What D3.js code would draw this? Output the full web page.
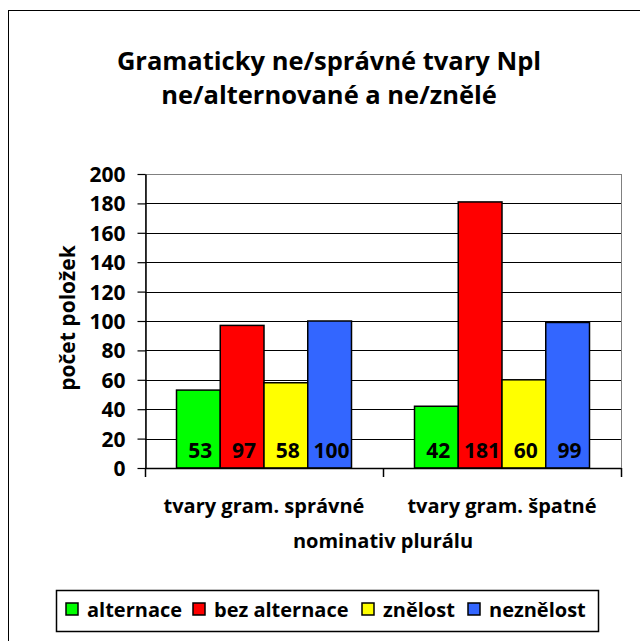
<!DOCTYPE html>
<html>
<head>
<meta charset="utf-8">
<script src="https://cdn.jsdelivr.net/npm/d3@7"></script>
<style>
  body { margin: 0; background: #fff; }
  text { font-family: "Open Sans", Lato, sans-serif; font-weight: bold; fill: #000; }
</style>
</head>
<body>
<svg class="svg"></svg>
<script>
let categories = ["tvary gram. správné", "tvary gram. špatné"]
let series = ["alternace", "bez alternace", "znělost", "neznělost"]
let alternace = [53, 42]
let bezAlternace = [97, 181]
let znelost = [58, 60]
let neznelost = [100, 99]
let yTicks = [0, 20, 40, 60, 80, 100, 120, 140, 160, 180, 200]
let titleLines = ["Gramaticky ne/správné tvary Npl", "ne/alternované a ne/znělé"]
let yTitle = "počet položek"
let xTitle = "nominativ plurálu"

let colorArr = ["#00ff00", "#ff0000", "#ffff00", "#3366ff"]
let valuesBySeries = [alternace, bezAlternace, znelost, neznelost]

let drawChart = () => {
    let svg = d3.select(".svg").attr("width", 640).attr("height", 641)
    let left = 145, right = 621, top = 174, bottom = 468

    // outer chart frame (runs off the right/bottom of the picture)
    svg.append("rect")
    .attr("x", 8.5).attr("y", 10.5)
    .attr("width", 660).attr("height", 660)
    .attr("fill", "none")
    .attr("stroke", "#000")
    .attr("stroke-width", 1)

    // title
    svg.append("text")
    .attr("text-anchor", "middle")
    .style("font-size", "25.5px")
    .selectAll("tspan")
    .data(titleLines)
    .enter()
    .append("tspan")
    .attr("x", 329)
    .attr("y", (d, i) => 70 + i * 34)
    .text((d) => d)

    let y = d3.scaleLinear().domain([0, 200]).range([bottom, top])
    let x0 = d3.scaleBand().domain(categories).range([left, right]).padding(0)
    let x1 = d3.scaleBand().domain(series).range([0, x0.bandwidth()]).paddingInner(0).paddingOuter(0.72)

    // plot area border (grey)
    svg.append("rect")
    .attr("x", left + 0.5).attr("y", top + 0.5)
    .attr("width", right - left).attr("height", bottom - top)
    .attr("fill", "none")
    .attr("stroke", "#808080")
    .attr("stroke-width", 1)

    // gridlines
    svg.append("g")
    .selectAll("line")
    .data(yTicks.filter((d) => d > 0 && d < 200))
    .enter()
    .append("line")
    .attr("x1", left).attr("x2", right)
    .attr("y1", (d) => Math.round(y(d)) + 0.5)
    .attr("y2", (d) => Math.round(y(d)) + 0.5)
    .attr("stroke", "#000")
    .attr("stroke-width", 1.2)

    // bars
    let rows = []
    series.forEach((s, si) => {
        categories.forEach((c, ci) => {
            rows.push({ series: s, cat: c, value: valuesBySeries[si][ci], color: colorArr[si] })
        })
    })

    svg.append("g")
    .selectAll("rect")
    .data(rows)
    .enter()
    .append("rect")
    .attr("x", (d) => x0(d.cat) + x1(d.series))
    .attr("y", (d) => y(d.value))
    .attr("width", x1.bandwidth())
    .attr("height", (d) => y(0) - y(d.value))
    .attr("fill", (d) => d.color)
    .attr("stroke", "#000")
    .attr("stroke-width", 1.5)

    // value labels at the base of the bars
    svg.append("g")
    .selectAll("text")
    .data(rows)
    .enter()
    .append("text")
    .attr("x", (d) => x0(d.cat) + x1(d.series) + x1.bandwidth() / 2 + 2)
    .attr("y", y(0) - 10)
    .attr("text-anchor", "middle")
    .style("font-size", "21px")
    .text((d) => d.value)

    // y axis
    let yAxis = d3.axisLeft(y).tickValues(yTicks).tickSize(8).tickSizeOuter(0).tickPadding(12)
    let gy = svg.append("g").attr("transform", "translate(" + (left + 0.5) + ",0)").call(yAxis)
    gy.selectAll("text").style("font-size", "21px").attr("dy", "0.36em")
    gy.selectAll("line").attr("stroke", "#000").attr("stroke-width", 1.2)
    gy.select(".domain").attr("stroke", "#000").attr("stroke-width", 1.5)

    // x axis
    svg.append("line")
    .attr("x1", left).attr("x2", right)
    .attr("y1", bottom + 0.5).attr("y2", bottom + 0.5)
    .attr("stroke", "#000")
    .attr("stroke-width", 1.5)

    let bounds = [x0(categories[0])].concat(categories.map((c) => x0(c) + x0.bandwidth()))
    svg.append("g")
    .selectAll("line")
    .data(bounds)
    .enter()
    .append("line")
    .attr("x1", (d) => d + 0.5).attr("x2", (d) => d + 0.5)
    .attr("y1", bottom).attr("y2", bottom + 9)
    .attr("stroke", "#000")
    .attr("stroke-width", 1.5)

    svg.append("g")
    .selectAll("text")
    .data(categories)
    .enter()
    .append("text")
    .attr("x", (d) => x0(d) + x0.bandwidth() / 2)
    .attr("y", 513)
    .attr("text-anchor", "middle")
    .style("font-size", "20px")
    .text((d) => d)

    // axis titles
    svg.append("text")
    .attr("x", (left + right) / 2)
    .attr("y", 548)
    .attr("text-anchor", "middle")
    .style("font-size", "20px")
    .text(xTitle)

    svg.append("text")
    .attr("transform", "translate(75,318) rotate(-90)")
    .attr("text-anchor", "middle")
    .style("font-size", "21px")
    .text(yTitle)

    // legend
    let legend = svg.append("g")
    legend.append("rect")
    .attr("x", 56.5).attr("y", 590.5)
    .attr("width", 542).attr("height", 41)
    .attr("fill", "#fff")
    .attr("stroke", "#000")
    .attr("stroke-width", 1.5)

    let legendX = [66, 193, 362, 468]
    let items = legend.selectAll("g.item")
    .data(series)
    .enter()
    .append("g")
    .attr("class", "item")
    .attr("transform", (d, i) => "translate(" + legendX[i] + ",603)")

    items.append("rect")
    .attr("width", 12).attr("height", 12)
    .attr("fill", (d, i) => colorArr[i])
    .attr("stroke", "#000")
    .attr("stroke-width", 1.5)

    items.append("text")
    .attr("x", 21)
    .attr("y", 14)
    .style("font-size", "20px")
    .text((d) => d)
}

drawChart()
</script>
</body>
</html>
